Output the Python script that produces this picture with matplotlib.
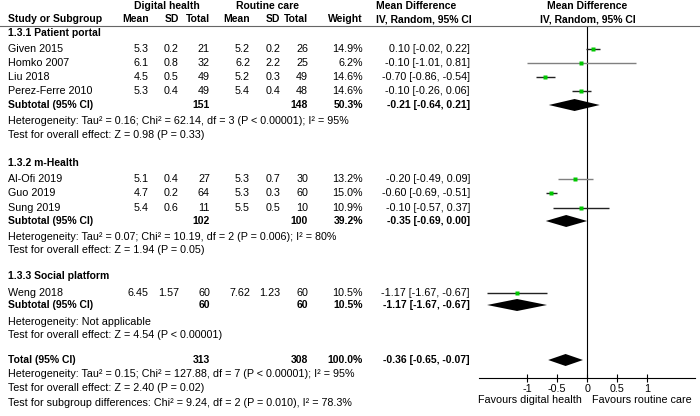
import matplotlib
matplotlib.use("Agg")
import matplotlib.pyplot as plt

plt.rcParams["font.family"] = ["Liberation Sans", "DejaVu Sans"]
FS = 7.75
FS_BOLD = 7.5

# ---- data ----
studies = ["Given 2015", "Homko 2007", "Liu 2018", "Perez-Ferre 2010",
           "Al-Ofi 2019", "Guo 2019", "Sung 2019", "Weng 2018"]
dh_mean = ["5.3", "6.1", "4.5", "5.3", "5.1", "4.7", "5.4", "6.45"]
dh_sd = ["0.2", "0.8", "0.5", "0.4", "0.4", "0.2", "0.6", "1.57"]
dh_n = [21, 32, 49, 49, 27, 64, 11, 60]
rc_mean = ["5.2", "6.2", "5.2", "5.4", "5.3", "5.3", "5.5", "7.62"]
rc_sd = ["0.2", "2.2", "0.3", "0.4", "0.7", "0.3", "0.5", "1.23"]
rc_n = [26, 25, 49, 48, 30, 60, 10, 60]
weight = [14.9, 6.2, 14.6, 14.6, 13.2, 15.0, 10.9, 10.5]
md = [0.10, -0.10, -0.70, -0.10, -0.20, -0.60, -0.10, -1.17]
lo = [-0.02, -1.01, -0.86, -0.26, -0.49, -0.69, -0.57, -1.67]
hi = [0.22, 0.81, -0.54, 0.06, 0.09, -0.51, 0.37, -0.67]
ci_grey = [False, True, False, False, True, False, False, False]

groups = ["1.3.1 Patient portal", "1.3.2 m-Health", "1.3.3 Social platform"]
group_members = [[0, 1, 2, 3], [4, 5, 6], [7]]
sub_dh_n = [151, 102, 60]
sub_rc_n = [148, 100, 60]
sub_weight = [50.3, 39.2, 10.5]
sub_md = [-0.21, -0.35, -1.17]
sub_lo = [-0.64, -0.69, -1.67]
sub_hi = [0.21, 0.00, -0.67]
sub_het = ["Heterogeneity: Tau\u00b2 = 0.16; Chi\u00b2 = 62.14, df = 3 (P < 0.00001); I\u00b2 = 95%",
           "Heterogeneity: Tau\u00b2 = 0.07; Chi\u00b2 = 10.19, df = 2 (P = 0.006); I\u00b2 = 80%",
           "Heterogeneity: Not applicable"]
sub_test = ["Test for overall effect: Z = 0.98 (P = 0.33)",
            "Test for overall effect: Z = 1.94 (P = 0.05)",
            "Test for overall effect: Z = 4.54 (P < 0.00001)"]

tot_dh_n, tot_rc_n, tot_weight = 313, 308, 100.0
tot_md, tot_lo, tot_hi = -0.36, -0.65, -0.07
tot_notes = ["Heterogeneity: Tau\u00b2 = 0.15; Chi\u00b2 = 127.88, df = 7 (P < 0.00001); I\u00b2 = 95%",
             "Test for overall effect: Z = 2.40 (P = 0.02)",
             "Test for subgroup differences: Chi\u00b2 = 9.24, df = 2 (P = 0.010), I\u00b2 = 78.3%"]

ticks = [-1, -0.5, 0, 0.5, 1]
tick_labels = ["-1", "-0.5", "0", "0.5", "1"]

# ---- layout (pixel rows, top = 0) ----
W, H = 700, 416
group_y = [33, 163, 276]
study_y = [49, 63, 77, 91, 179, 193, 208, 293]
sub_y = [105, 221, 305]
het_y = [121, 237, 322]
test_y = [135, 250, 335]
tot_y = 360
tot_note_y = [374, 388, 403]
col_x = dict(name=8, dh_mean=149, dh_sd=179, dh_n=210, rc_mean=250,
             rc_sd=280, rc_n=308, weight=363, ci=470)

fig = plt.figure(figsize=(W / 100, H / 100), dpi=100)


def put(x, y, s, ha="left", bold=False, **kw):
    fig.text(x / W, 1 - y / H, s, ha=ha, va="center",
             fontsize=FS_BOLD if bold else FS,
             fontweight="bold" if bold else "normal", **kw)


# headers
put(167, 6, "Digital health", ha="center", bold=True)
put(267, 6, "Routine care", ha="center", bold=True)
put(376, 6, "Mean Difference", bold=True)
put(376, 19, "IV, Random, 95% CI", bold=True)
put(587.5, 6, "Mean Difference", ha="center", bold=True)
put(587.5, 19, "IV, Random, 95% CI", ha="center", bold=True)
put(8, 19, "Study or Subgroup", bold=True)
for key, lab in [("dh_mean", "Mean"), ("dh_sd", "SD"), ("dh_n", "Total"),
                 ("rc_mean", "Mean"), ("rc_sd", "SD"), ("rc_n", "Total"),
                 ("weight", "Weight")]:
    put(col_x[key], 19, lab, ha="right", bold=True)
fig.add_artist(plt.Line2D([0, 1], [1 - 25.5 / H] * 2, color="#666666", lw=0.8))

# forest axes
left, right, top, bottom = 479.3, 695, 25.5, 378
fx = fig.add_axes([left / W, 1 - bottom / H, (right - left) / W, (bottom - top) / H])
fx.set_xlim(-1.8, 1.8)
fx.set_ylim(bottom, top)
for sp in ["top", "left", "right"]:
    fx.spines[sp].set_visible(False)
fx.spines["bottom"].set_linewidth(0.8)
fx.set_yticks([])
fx.set_xticks(ticks)
fx.set_xticklabels(tick_labels, fontsize=FS)
fx.tick_params(axis="x", direction="inout", length=6, width=0.8, pad=1)
fx.axvline(0, color="black", lw=0.8)
fx.patch.set_alpha(0)


def diamond(y, m, l, h, half=6):
    fx.fill([l, m, h, m], [y, y - half, y, y + half], color="black", lw=0)


def fmt_ci(m, l, h):
    return f"{m:.2f} [{l:.2f}, {h:.2f}]"


for g, name in enumerate(groups):
    put(8, group_y[g], name, bold=True)
    for i in group_members[g]:
        y = study_y[i]
        put(8, y, studies[i])
        put(col_x["dh_mean"], y, dh_mean[i], ha="right")
        put(col_x["dh_sd"], y, dh_sd[i], ha="right")
        put(col_x["dh_n"], y, str(dh_n[i]), ha="right")
        put(col_x["rc_mean"], y, rc_mean[i], ha="right")
        put(col_x["rc_sd"], y, rc_sd[i], ha="right")
        put(col_x["rc_n"], y, str(rc_n[i]), ha="right")
        put(col_x["weight"], y, f"{weight[i]:.1f}%", ha="right")
        put(col_x["ci"], y, fmt_ci(md[i], lo[i], hi[i]), ha="right")
        fx.plot([lo[i], hi[i]], [y, y], color="#808080" if ci_grey[i] else "#222222",
                lw=1.0, solid_capstyle="butt")
        fx.plot(md[i], y, "s", color="#00c800", mec="none", ms=1.5 + weight[i] * 0.13)
    y = sub_y[g]
    put(8, y, "Subtotal (95% CI)", bold=True)
    put(col_x["dh_n"], y, str(sub_dh_n[g]), ha="right", bold=True)
    put(col_x["rc_n"], y, str(sub_rc_n[g]), ha="right", bold=True)
    put(col_x["weight"], y, f"{sub_weight[g]:.1f}%", ha="right", bold=True)
    put(col_x["ci"], y, fmt_ci(sub_md[g], sub_lo[g], sub_hi[g]), ha="right", bold=True)
    diamond(y, sub_md[g], sub_lo[g], sub_hi[g])
    put(8, het_y[g], sub_het[g])
    put(8, test_y[g], sub_test[g])

put(8, tot_y, "Total (95% CI)", bold=True)
put(col_x["dh_n"], tot_y, str(tot_dh_n), ha="right", bold=True)
put(col_x["rc_n"], tot_y, str(tot_rc_n), ha="right", bold=True)
put(col_x["weight"], tot_y, f"{tot_weight:.1f}%", ha="right", bold=True)
put(col_x["ci"], tot_y, fmt_ci(tot_md, tot_lo, tot_hi), ha="right", bold=True)
diamond(tot_y, tot_md, tot_lo, tot_hi)
for yy, s in zip(tot_note_y, tot_notes):
    put(8, yy, s)

put(582, 400, "Favours digital health", ha="right")
put(592, 400, "Favours routine care")

fig.savefig("out.png", dpi=100)
